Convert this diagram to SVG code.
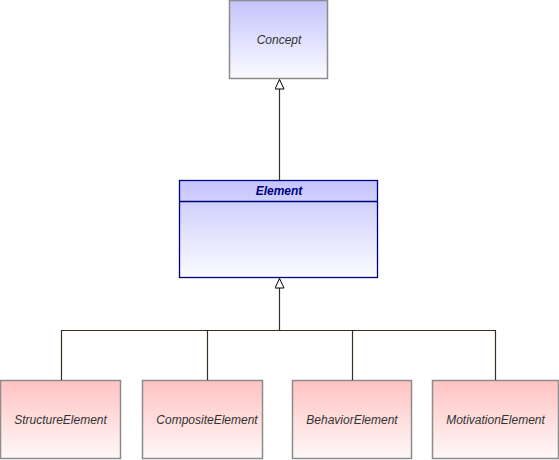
<svg xmlns="http://www.w3.org/2000/svg" width="559" height="460" viewBox="0 0 559 460">
<defs>
<linearGradient id="blue" x1="0" y1="0" x2="0" y2="1"><stop offset="0" stop-color="#c4c4fc"/><stop offset="1" stop-color="#fbfbff"/></linearGradient>
<linearGradient id="pink" x1="0" y1="0" x2="0" y2="1"><stop offset="0" stop-color="#ffc2c2"/><stop offset="1" stop-color="#fff8f8"/></linearGradient>
<marker id="gen" markerWidth="12" markerHeight="10" refX="10" refY="5" orient="auto" markerUnits="userSpaceOnUse"><path d="M0.5,0.5 L10,5 L0.5,9.5 Z" fill="#fff" stroke="#000" stroke-width="1"/></marker>
</defs>
<style>
.gray{stroke:#8c8c8c;stroke-width:1.5}
.lbl{font-family:"Liberation Sans",Arial,sans-serif;font-size:12px;font-style:italic;fill:#333;text-anchor:middle}
.conn{fill:none;stroke:#3a2e1e;stroke-width:1.2}
</style>
<g id="Concept"><rect x="229.5" y="0.5" width="98" height="78" fill="url(#blue)" class="gray"/><text x="279" y="44" class="lbl">Concept</text></g>
<g id="Element"><rect x="179.5" y="180.5" width="198" height="97" fill="url(#blue)" stroke="#000080" stroke-width="1.3"/><line x1="179.5" y1="201.5" x2="377.5" y2="201.5" stroke="#000080" stroke-width="1.3"/><text x="279" y="195" class="lbl" style="font-weight:bold;fill:#000080">Element</text></g>
<g id="StructureElement"><rect x="0.5" y="380.5" width="120" height="78" fill="url(#pink)" class="gray"/><text x="60.5" y="424" class="lbl">StructureElement</text></g>
<g id="CompositeElement"><rect x="142.5" y="380.5" width="120" height="78" fill="url(#pink)" class="gray"/><text x="207" y="424" class="lbl">CompositeElement</text></g>
<g id="BehaviorElement"><rect x="292.5" y="380.5" width="119" height="78" fill="url(#pink)" class="gray"/><text x="352" y="424" class="lbl">BehaviorElement</text></g>
<g id="MotivationElement"><rect x="432.5" y="380.5" width="126" height="78" fill="url(#pink)" class="gray"/><text x="495.5" y="424" class="lbl">MotivationElement</text></g>
<g id="connectors">
<path class="conn" d="M279.5,180 L279.5,79.5" marker-end="url(#gen)"/>
<path class="conn" d="M61.5,380 L61.5,330.5 L279.5,330.5 L279.5,278.5" marker-end="url(#gen)"/>
<path class="conn" d="M207.5,380 L207.5,330.5"/>
<path class="conn" d="M352.5,380 L352.5,330.5"/>
<path class="conn" d="M495.5,380 L495.5,330.5 L279.5,330.5"/>
</g>
</svg>
